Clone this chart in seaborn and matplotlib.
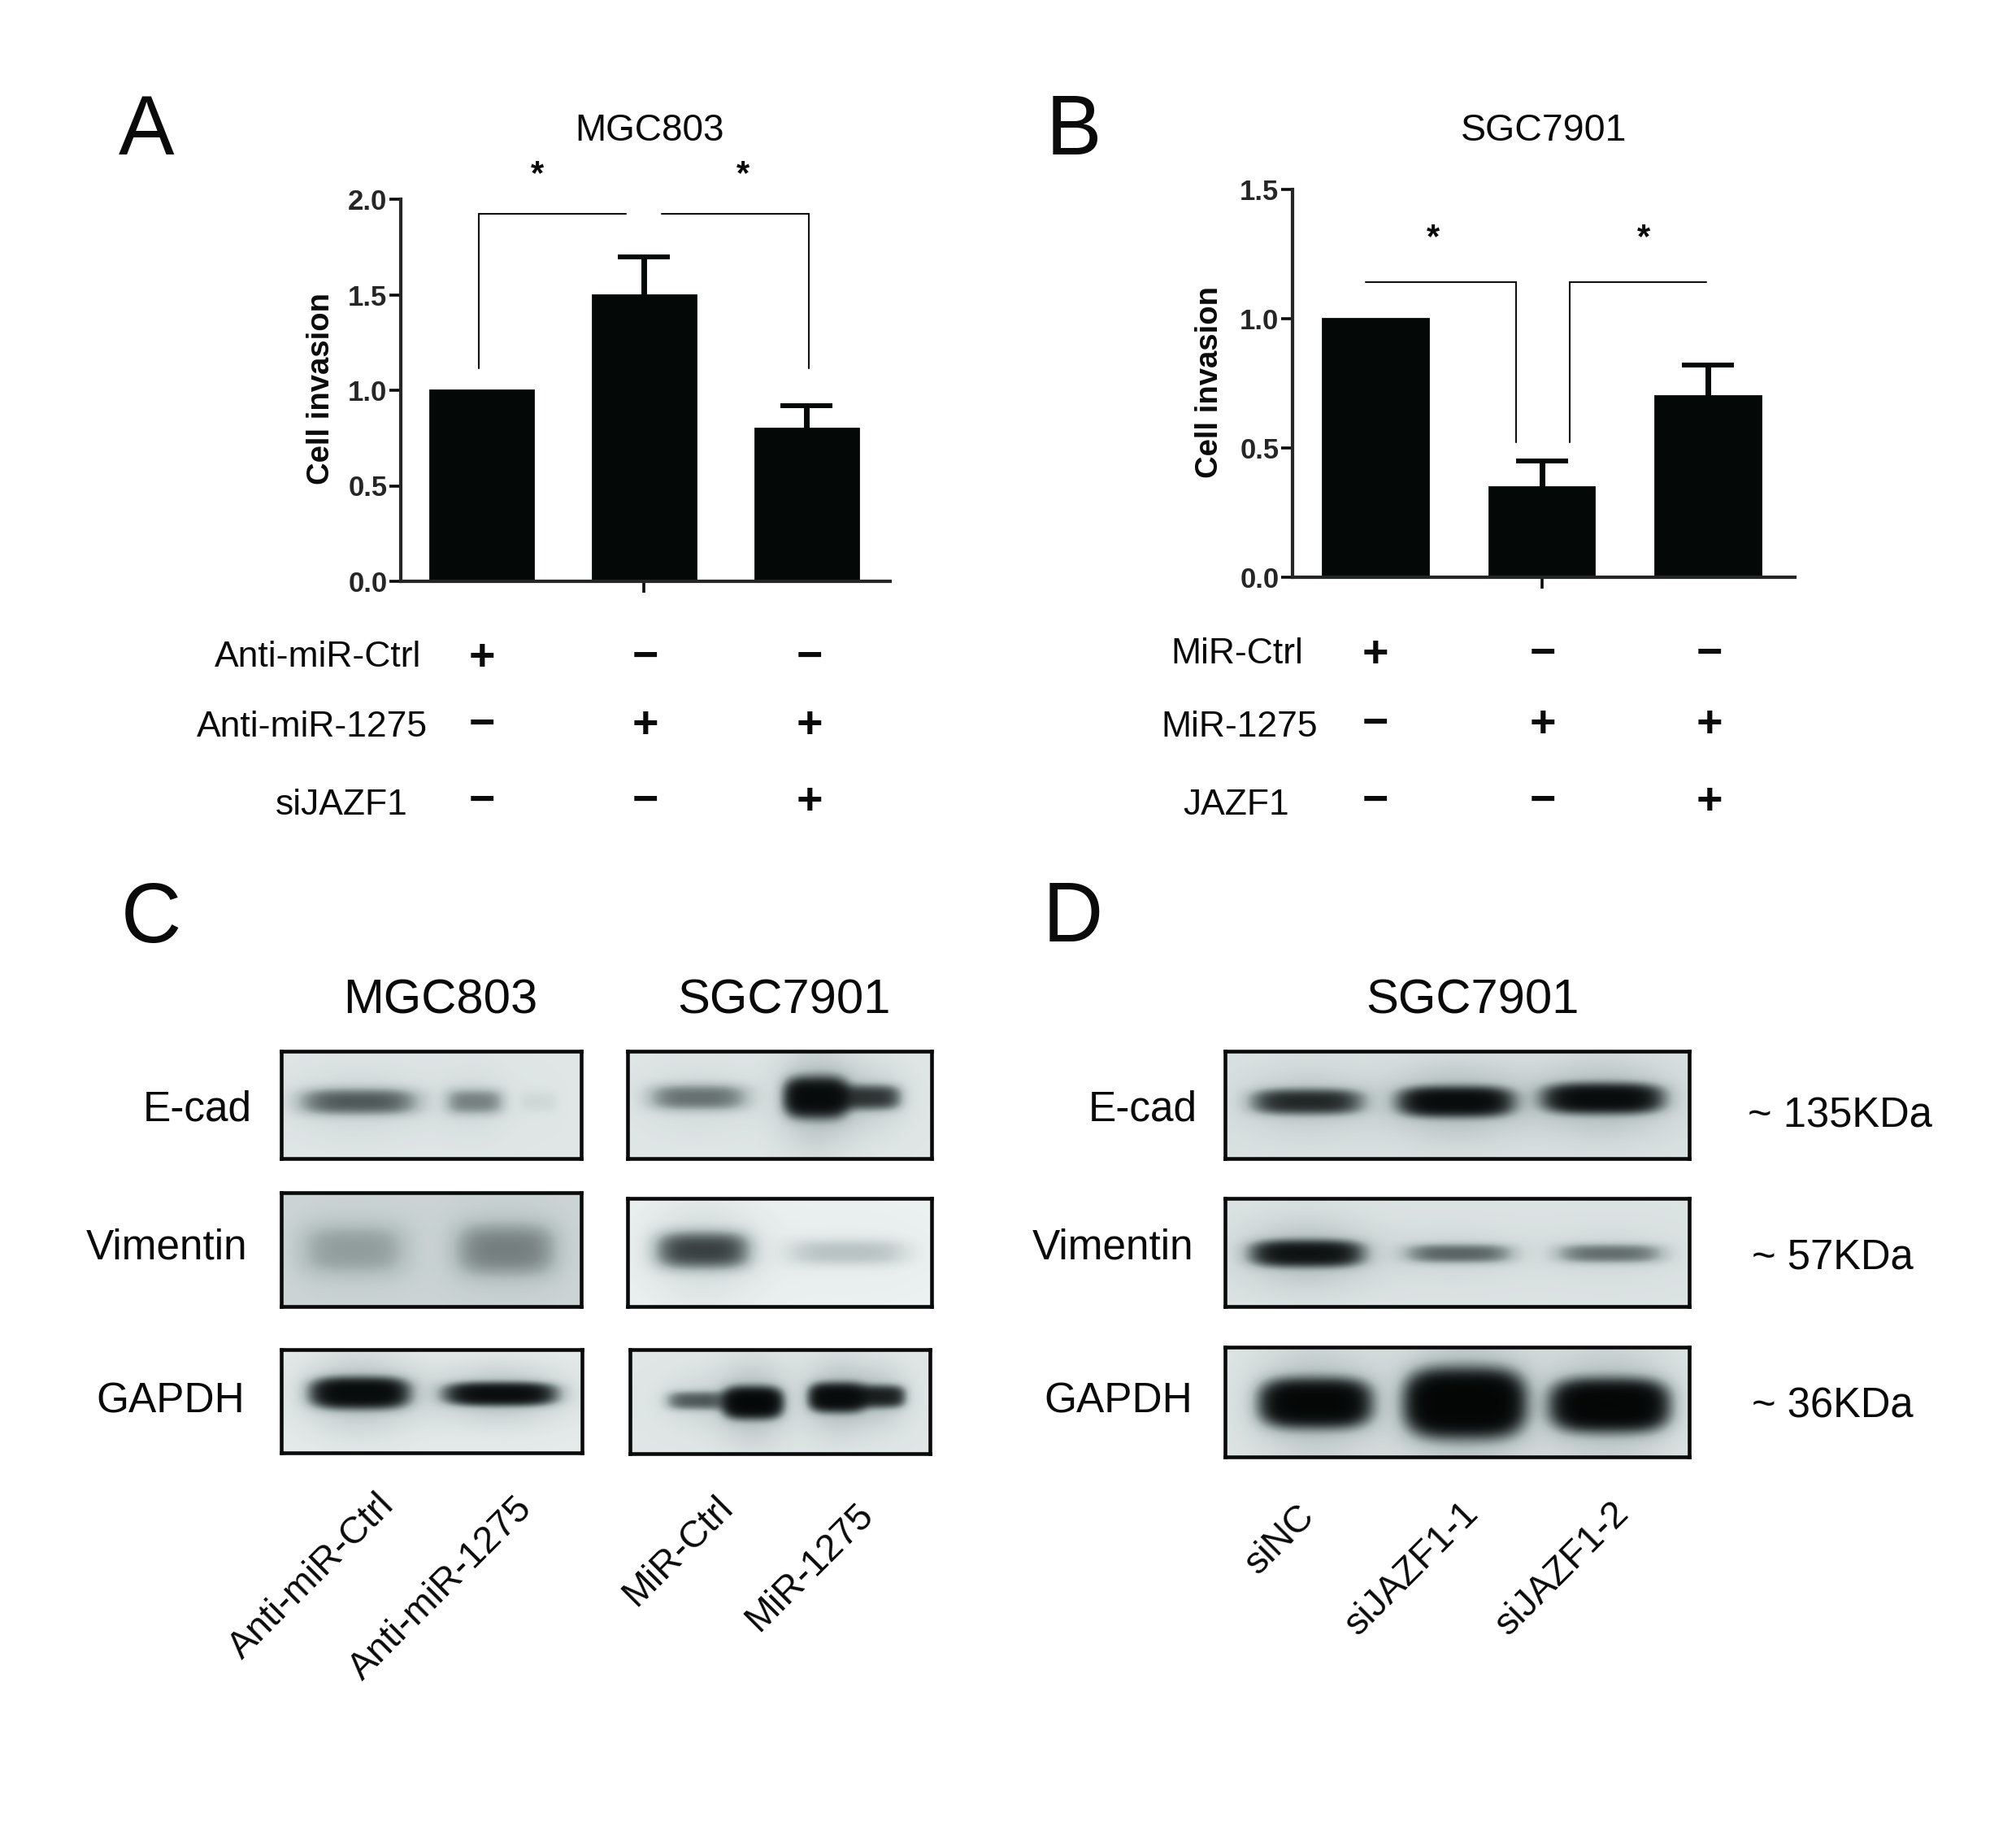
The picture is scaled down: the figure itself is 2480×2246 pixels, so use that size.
import numpy as np
import pandas as pd
import seaborn as sns
import matplotlib.pyplot as plt
from matplotlib.colors import LinearSegmentedColormap

W, H = 2480, 2246

# bar charts
groups_a = ['Anti-miR-Ctrl', 'Anti-miR-1275', 'siJAZF1']
invasion_a = [1.0, 1.5, 0.8]
err_a = [0.0, 0.2, 0.12]
yticks_a = [0.0, 0.5, 1.0, 1.5, 2.0]
signs_a = [['+', '-', '-'], ['-', '+', '+'], ['-', '-', '+']]

groups_b = ['MiR-Ctrl', 'MiR-1275', 'JAZF1']
invasion_b = [1.0, 0.35, 0.7]
err_b = [0.0, 0.10, 0.12]
yticks_b = [0.0, 0.5, 1.0, 1.5]
signs_b = [['+', '-', '-'], ['-', '+', '+'], ['-', '-', '+']]

# blots: background level, then bands as (x, y, half width, half height, density)
ecad_mgc = (0.90, [(.257, .47, .18, .11, .62), (.646, .47, .09, .11, .42), (.86, .47, .06, .09, .08)])
vim_mgc = (0.80, [(.24, .50, .17, .22, .26), (.75, .50, .16, .22, .38)])
gapdh_mgc = (0.93, [(.26, .42, .14, .12, 1.8), (.73, .43, .16, .09, 1.6)])
ecad_sgc = (0.90, [(.232, .43, .15, .11, .50), (.62, .43, .09, .15, 1.8), (.80, .43, .09, .10, .85)])
vim_sgc = (0.96, [(.247, .48, .14, .15, .80), (.725, .50, .18, .11, .22)])
gapdh_sgc = (0.90, [(.22, .49, .09, .08, .60), (.41, .51, .085, .12, 2.0), (.69, .46, .08, .11, 1.8), (.84, .45, .07, .09, 1.1)])
ecad_si = (0.87, [(.176, .47, .105, .10, 1.0), (.497, .47, .105, .11, 1.7), (.815, .44, .11, .11, 1.7)])
vim_si = (0.88, [(.176, .51, .105, .10, 1.4), (.504, .51, .105, .08, .55), (.83, .51, .105, .08, .50)])
gapdh_si = (0.90, [(.194, .51, .10, .17, 2.2), (.517, .51, .105, .23, 2.8), (.83, .53, .105, .18, 2.4)])

row_names = ['E-cad', 'Vimentin', 'GAPDH']
kda_labels = ['~ 135KDa', '~ 57KDa', '~ 36KDa']
lanes_mgc = ['Anti-miR-Ctrl', 'Anti-miR-1275']
lanes_sgc = ['MiR-Ctrl', 'MiR-1275']
lanes_si = ['siNC', 'siJAZF1-1', 'siJAZF1-2']

sns.set_style('white')
plt.rcParams['font.family'] = ['Liberation Sans', 'DejaVu Sans']
blot_cmap = LinearSegmentedColormap.from_list('blot', ['#040606', '#5d6768', '#b4bfc0', '#f2f6f6'])

fig = plt.figure(figsize=(W / 100, H / 100), dpi=100, facecolor='white')


def px_axes(left, top, right, bottom):
    return fig.add_axes([left / W, 1 - bottom / H, (right - left) / W, (bottom - top) / H])


def label(x, y, s, size, **kw):
    kw.setdefault('ha', 'center')
    kw.setdefault('va', 'center')
    fig.text(x / W, 1 - y / H, s, fontsize=size, color='#0a0a0a', **kw)


def bar_panel(box, groups, values, errs, yticks, xlim, bar_w):
    ax = px_axes(*box)
    df = pd.DataFrame({'group': groups, 'value': values})
    sns.barplot(data=df, x='group', y='value', color='#040807', saturation=1, width=bar_w, errorbar=None,
                edgecolor='#040807', linewidth=2, ax=ax)
    idx = [i for i, e in enumerate(errs) if e > 0]
    eb = ax.errorbar(idx, [values[i] for i in idx], yerr=[[0] * len(idx), [errs[i] for i in idx]], fmt='none',
                     ecolor='#040807', elinewidth=5, capsize=23, capthick=4.3)
    eb[1][0].set_visible(False)  # no cap on the bar top
    ax.set_xlim(*xlim)
    ax.set_ylim(yticks[0], yticks[-1])
    ax.set_yticks(yticks)
    ax.set_yticklabels([f'{t:.1f}' for t in yticks], fontsize=25, fontweight='bold')
    ax.set_xticks([1])
    ax.set_xticklabels([''])
    ax.set_xlabel('')
    ax.set_ylabel('')
    ax.tick_params(axis='both', length=10, width=2.6, direction='out', left=True, bottom=True, color='#0a0a0a', pad=2)
    sns.despine(ax=ax)
    ax.spines['left'].set_linewidth(3)
    ax.spines['bottom'].set_linewidth(3)
    ax.patch.set_alpha(0)
    return ax


def bracket(ax, xs, ys):
    ax.plot(xs, ys, color='#111111', lw=1.5, solid_joinstyle='miter', clip_on=False)


def blot(box, panel):
    bg, bands = panel
    ax = px_axes(*box)
    h = int(box[3] - box[1])
    w = int(box[2] - box[0])
    yy, xx = np.mgrid[0:1:h * 1j, 0:1:w * 1j]
    density = np.zeros_like(xx)
    for bx, by, wx, wy, d in bands:
        dx = (xx - bx) / (wx * 1.08)
        dy = (yy - by) / (wy * 1.1)
        density += d * np.exp(-np.abs(dx) ** 4) * np.exp(-np.abs(dy) ** 2.6)
        density += 0.16 * min(d, 1.5) * np.exp(-(dx / 1.3) ** 2) * np.exp(-(dy / 3.0) ** 2)
    img = bg * np.exp(-1.7 * density ** 1.2)
    sns.heatmap(img, cmap=blot_cmap, vmin=0, vmax=1, cbar=False, xticklabels=False, yticklabels=False, ax=ax)
    for sp in ax.spines.values():
        sp.set_visible(True)
        sp.set_color('#0a0a0a')
        sp.set_linewidth(3.3)


def sign_rows(names, signs, name_x, rows_y, cols_x):
    for name, nx, row, y in zip(names, name_x, signs, rows_y):
        label(nx, y[0], name, 32)
        for s, x in zip(row, cols_x):
            label(x, y[1], '+' if s == '+' else '\u2212', 40, fontweight='bold')


# panel A
ax_a = bar_panel((493, 245, 1095, 715), groups_a, invasion_a, err_a, yticks_a, (-0.495, 2.515), 0.635)
bracket(ax_a, [-0.015, -0.015, 0.89], [1.115, 1.925, 1.925])
bracket(ax_a, [1.11, 2.015, 2.015], [1.925, 1.925, 1.115])
label(395, 478, 'Cell invasion', 27.5, fontweight='bold', rotation=90)
label(661, 215, '*', 30, fontweight='bold')
label(914, 215, '*', 30, fontweight='bold')
label(799, 161, 'MGC803', 33)
sign_rows(groups_a, signs_a, [391, 384, 420], [(808, 810), (895, 893), (990, 987)], [593, 794, 996])

# panel B
ax_b = bar_panel((1590, 233, 2208, 710), groups_b, invasion_b, err_b, yticks_b, (-0.499, 2.523), 0.633)
bracket(ax_b, [-0.06, 0.846, 0.846], [1.14, 1.14, 0.522])
bracket(ax_b, [1.169, 1.169, 1.99], [0.522, 1.14, 1.14])
label(1488, 470, 'Cell invasion', 27.5, fontweight='bold', rotation=90)
label(1763, 293, '*', 30, fontweight='bold')
label(2022, 293, '*', 30, fontweight='bold')
label(1899, 161, 'SGC7901', 33.5)
sign_rows(groups_b, signs_b, [1522, 1525, 1521], [(805, 806), (894, 892), (990, 987)], [1692, 1898, 2103])

# panel C
blot((346, 1293, 715, 1425), ecad_mgc)
blot((772, 1293, 1146, 1425), ecad_sgc)
blot((346, 1467, 715, 1607), vim_mgc)
blot((772, 1474, 1146, 1607), vim_sgc)
blot((346, 1660, 716, 1787), gapdh_mgc)
blot((775, 1660, 1144, 1788), gapdh_sgc)

# panel D
blot((1507, 1293, 2078, 1425), ecad_si)
blot((1507, 1474, 2078, 1607), vim_si)
blot((1507, 1657, 2078, 1792), gapdh_si)

for y, name, x_c, x_d in zip([1365, 1535, 1724], row_names, [243, 205, 210], [1406, 1369, 1376]):
    label(x_c, y, name, 37)
    label(x_d, y, name, 37)
for y, s, x in zip([1373, 1547, 1730], kda_labels, [2263, 2254, 2254]):
    label(x, y, s, 36.5)

label(542, 1231, 'MGC803', 43)
label(964, 1231, 'SGC7901', 43)
label(1811, 1231, 'SGC7901', 43)

for s, x, y in zip(lanes_mgc + lanes_sgc + lanes_si,
                   [384, 543, 834, 996, 1575, 1737, 1922],
                   [1939, 1954, 1908, 1928, 1894, 1930, 1930]):
    label(x, y, s, 33.5, rotation=45, rotation_mode='anchor')

# panel letters
label(180, 163, 'A', 74)
label(1321, 163, 'B', 74)
label(186, 1133, 'C', 74)
label(1320, 1132, 'D', 74)

fig.savefig('out.png', dpi=100)
